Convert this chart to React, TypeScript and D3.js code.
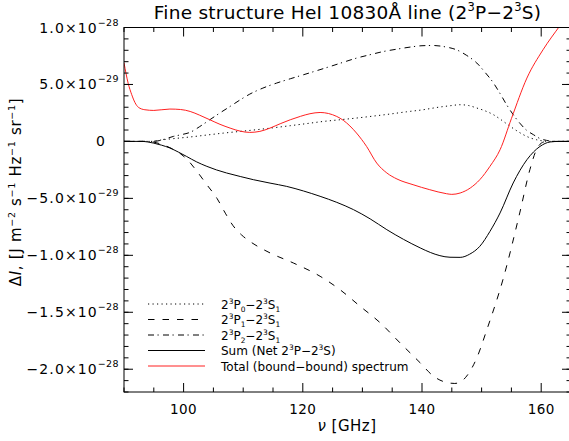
import React from "react";
import * as d3 from "d3";

// units of 1e-29 for values, GHz for frequency
const UNIT = 1e-29;

const nuP0 = [90, 94.5, 96.6, 98.8, 101.1, 103.9, 106.7, 109.5, 112.3, 115.1, 117.9, 120.6, 123.4, 126.2, 129.0, 131.8, 134.6, 137.4, 140.2, 142.5, 144.7, 146.4, 147.8, 149.2, 150.6, 152.0, 153.4, 154.8, 156.0, 157.0, 158.1, 159.2, 160.3, 161.5, 165];
const valP0 = [0, 0, 0.15, 0.27, 0.39, 0.56, 0.73, 0.88, 1.03, 1.2, 1.38, 1.56, 1.75, 1.9, 2.05, 2.22, 2.4, 2.6, 2.78, 2.98, 3.13, 3.22, 3.15, 2.93, 2.68, 2.34, 1.85, 1.32, 0.9, 0.59, 0.32, 0.15, 0.04, 0, 0];

const nuP1 = [90, 94, 96, 97.7, 99.4, 100.8, 102.2, 103.9, 105.6, 107.0, 108.3, 109.7, 111.1, 114.5, 118.4, 122.9, 126.2, 129.6, 133.0, 136.3, 139.7, 141.9, 143.7, 145.5, 146.5, 147.5, 149.2, 150.9, 153.6, 156.4, 158.1, 159.2, 160.4, 161, 165];
const valP1 = [0, 0, -0.2, -0.55, -1.05, -1.7, -2.6, -3.8, -5.0, -6.3, -7.4, -8.2, -8.77, -9.79, -10.67, -11.84, -13.0, -14.47, -15.93, -17.68, -19.44, -20.6, -21.1, -21.25, -21.1, -20.6, -19.0, -16.5, -12.1, -6.28, -2.48, -0.73, -0.05, 0, 0];

const nuP2 = [90, 94, 95.5, 96.8, 98.3, 99.7, 101.1, 102.7, 104.4, 106.1, 107.8, 109.5, 111.1, 113.3, 115.6, 117.9, 120.1, 122.4, 124.6, 126.8, 129.0, 131.2, 133.5, 135.8, 138.0, 140.0, 141.9, 143.9, 145.8, 147.5, 149.2, 150.6, 152.0, 153.1, 154.2, 155.3, 156.4, 157.5, 158.7, 159.8, 160.9, 162, 165];
const valP2 = [0, 0, 0.03, 0.2, 0.44, 0.6, 0.8, 1.3, 1.9, 2.5, 3.07, 3.65, 4.15, 4.68, 5.12, 5.5, 5.85, 6.22, 6.58, 6.95, 7.31, 7.6, 7.89, 8.1, 8.28, 8.4, 8.42, 8.3, 8.04, 7.55, 6.88, 6.05, 5.12, 4.2, 3.22, 2.35, 1.61, 1.0, 0.59, 0.25, 0.09, 0, 0];

const nuSum = [90, 93, 94, 94.9, 96.3, 97.7, 99.1, 100.5, 102.2, 103.9, 105.5, 107.2, 109.5, 111.7, 114.5, 117.3, 120.1, 122.9, 125.7, 128.5, 131.3, 134.1, 136.9, 139.7, 141.4, 143.0, 144.7, 146.4, 148.0, 149.7, 151.4, 153.1, 155.3, 157.6, 159.8, 161.5, 163, 165];
const valSum = [0, 0, -0.05, -0.14, -0.33, -0.58, -0.93, -1.32, -1.8, -2.19, -2.5, -2.77, -3.08, -3.36, -3.66, -3.95, -4.35, -4.82, -5.35, -5.99, -6.8, -7.75, -8.6, -9.35, -9.75, -10.03, -10.17, -10.18, -9.9, -9.21, -7.9, -6.28, -3.65, -1.61, -0.44, -0.05, 0, 0];

const nuTot = [90, 90.7, 91.3, 91.85, 92.4, 93.5, 95, 97.7, 99.5, 101.1, 102.7, 104.4, 106.1, 107.8, 109.5, 111.1, 112.8, 114.5, 116.2, 117.9, 119.6, 121.2, 122.9, 124.3, 125.7, 126.8, 129.0, 130.7, 132.4, 134.1, 135.8, 138.5, 141.3, 144.1, 145.0, 146.4, 148.1, 149.7, 151.4, 153.1, 155.0, 157.6, 160.3, 163.2, 165];
const valTot = [6.9, 5.1, 4.1, 3.4, 3.0, 2.78, 2.72, 2.84, 2.8, 2.63, 2.3, 1.9, 1.5, 1.17, 0.9, 0.79, 0.88, 1.17, 1.55, 1.9, 2.2, 2.43, 2.54, 2.45, 2.19, 1.85, 0.74, -0.44, -1.9, -2.77, -3.3, -3.8, -4.24, -4.59, -4.65, -4.53, -4.09, -3.36, -2.19, -0.73, 2.0, 5.56, 8.04, 10.2, 11.5];

const xMajorTicks = [100, 120, 140, 160];
const yMajorTicks = [1e-28, 5e-29, 0, -5e-29, -1e-28, -1.5e-28, -2e-28];

const legendLabels = [
  "2^3P_0−2^3S_1",
  "2^3P_1−2^3S_1",
  "2^3P_2−2^3S_1",
  "Sum (Net 2^3P−2^3S)",
  "Total (bound−bound) spectrum",
];
const titleText = "Fine structure HeI 10830Å line (2^3P−2^3S)";

const W = 569;
const H = 441;
const L = 124;
const R = 571;
const T = 27.5;
const B = 392;
const FONT = "'DejaVu Sans', sans-serif";

function Rich({ text, x, y, size, anchor = "start", fill = "#000", spacing = 0 }: any) {
  const parts: { t: string; k: string }[] = [];
  let i = 0;
  let buf = "";
  while (i < text.length) {
    const c = text[i];
    if ((c === "^" || c === "_") && i + 1 < text.length) {
      if (buf) parts.push({ t: buf, k: "n" });
      buf = "";
      let s = "";
      if (text[i + 1] === "{") {
        const j = text.indexOf("}", i + 2);
        s = text.slice(i + 2, j);
        i = j + 1;
      } else {
        s = text[i + 1];
        i += 2;
      }
      parts.push({ t: s, k: c === "^" ? "sup" : "sub" });
    } else {
      buf += c;
      i++;
    }
  }
  if (buf) parts.push({ t: buf, k: "n" });
  return (
    <text x={x} y={y} fontSize={size} fontFamily={FONT} textAnchor={anchor} fill={fill} letterSpacing={spacing}>
      {parts.map((p, k) =>
        p.k === "n" ? (
          <tspan key={k}>{p.t}</tspan>
        ) : (
          <tspan
            key={k}
            fontSize={size * 0.62}
            baselineShift={p.k === "sup" ? size * 0.42 : -size * 0.22}
          >
            {p.t}
          </tspan>
        )
      )}
    </text>
  );
}

function fmtTick(v: number) {
  if (v === 0) return null;
  const e = Math.floor(Math.log10(Math.abs(v)) + 1e-9);
  const m = v / Math.pow(10, e);
  const ms = (m < 0 ? "−" : "") + Math.abs(m).toFixed(1) + "×10";
  return { ms, es: "−" + Math.abs(e) };
}

export default function App() {
  const x = d3.scaleLinear().domain([90, 165]).range([L, R]);
  const y = d3.scaleLinear().domain([-2.2e-28, 1.0e-28]).range([B, T]);
  const line = d3
    .line<[number, number]>()
    .x((d) => x(d[0]))
    .y((d) => y(d[1] * UNIT))
    .curve(d3.curveMonotoneX);
  const mk = (nu: number[], v: number[]) => line(nu.map((n, i) => [n, v[i]]) as [number, number][]) || "";

  const series = [
    { d: mk(nuP0, valP0), stroke: "#000", dash: "1.2,3.3" },
    { d: mk(nuP1, valP1), stroke: "#000", dash: "6.5,8" },
    { d: mk(nuP2, valP2), stroke: "#000", dash: "6,3.5,1.2,4.3" },
    { d: mk(nuSum, valSum), stroke: "#000", dash: "" },
    { d: mk(nuTot, valTot), stroke: "#ff2020", dash: "" },
  ];

  const xMinor = d3.range(90, 166, 5).filter((v) => !xMajorTicks.includes(v));
  const yMinor = d3.range(-22, 11, 1).map((v) => v * 1e-29);

  const legendY = [304, 319.5, 335, 350.5, 366];

  return (
    <svg width={W} height={H} style={{ position: "absolute", left: 0, top: 0, background: "#fff" }}>
      <rect x={0} y={0} width={W} height={H} fill="#fff" />
      <defs>
        <clipPath id="plotclip">
          <rect x={L} y={T} width={R - L} height={B - T} />
        </clipPath>
      </defs>
      <Rich text={titleText} x={(L + R) / 2} y={19} size={18.5} anchor="middle" spacing={0.25} />

      <g clipPath="url(#plotclip)" fill="none" strokeWidth={1}>
        {series.map((s, i) => (
          <path key={i} d={s.d} stroke={s.stroke} strokeDasharray={s.dash || undefined} />
        ))}
      </g>

      <rect x={L} y={T} width={R - L} height={B - T} fill="none" stroke="#000" strokeWidth={1} />

      <g stroke="#000" strokeWidth={1}>
        {xMajorTicks.map((v) => (
          <g key={"xm" + v}>
            <line x1={x(v)} x2={x(v)} y1={B} y2={B - 9} />
            <line x1={x(v)} x2={x(v)} y1={T} y2={T + 9} />
          </g>
        ))}
        {xMinor.map((v) => (
          <g key={"xn" + v}>
            <line x1={x(v)} x2={x(v)} y1={B} y2={B - 4.5} />
            <line x1={x(v)} x2={x(v)} y1={T} y2={T + 4.5} />
          </g>
        ))}
        {yMinor.map((v, i) => (
          <g key={"yn" + i}>
            <line x1={L} x2={L + 4.5} y1={y(v)} y2={y(v)} />
            <line x1={R} x2={R - 4.5} y1={y(v)} y2={y(v)} />
          </g>
        ))}
        {yMajorTicks.map((v, i) => (
          <g key={"ym" + i}>
            <line x1={L} x2={L + 9} y1={y(v)} y2={y(v)} />
            <line x1={R} x2={R - 9} y1={y(v)} y2={y(v)} />
          </g>
        ))}
      </g>

      {xMajorTicks.map((v) => (
        <text key={"xl" + v} x={x(v)} y={414} fontSize={13.5} fontFamily={FONT} textAnchor="middle" letterSpacing={0.4}>
          {v}
        </text>
      ))}
      {yMajorTicks.map((v, i) => {
        const f = fmtTick(v);
        if (!f)
          return (
            <text key={"yl" + i} x={105} y={y(v) + 5} fontSize={14} fontFamily={FONT} textAnchor="end">
              0
            </text>
          );
        return (
          <text key={"yl" + i} x={119} y={y(v) + 5} fontSize={14} fontFamily={FONT} textAnchor="end">
            <tspan letterSpacing={1.1}>{f.ms}</tspan>
            <tspan fontSize={9.5} baselineShift={7} letterSpacing={0.4}>{f.es}</tspan>
          </text>
        );
      })}

      <text x={347} y={431} fontSize={15} fontFamily={FONT} textAnchor="middle" letterSpacing={0.5}>
        <tspan fontStyle="italic">ν</tspan>
        <tspan> [GHz]</tspan>
      </text>

      <text
        transform="translate(21,192) rotate(-90)"
        fontSize={15}
        fontFamily={FONT}
        textAnchor="middle"
        letterSpacing={0.7}
      >
        <tspan>Δ</tspan>
        <tspan fontStyle="italic">I</tspan>
        <tspan>, [J m</tspan>
        <tspan fontSize={9.5} baselineShift={6}>−2</tspan>
        <tspan> s</tspan>
        <tspan fontSize={9.5} baselineShift={6}>−1</tspan>
        <tspan> Hz</tspan>
        <tspan fontSize={9.5} baselineShift={6}>−1</tspan>
        <tspan> sr</tspan>
        <tspan fontSize={9.5} baselineShift={6}>−1</tspan>
        <tspan>]</tspan>
      </text>

      {legendLabels.map((lab, i) => (
        <g key={"lg" + i}>
          <line
            x1={148}
            x2={205}
            y1={legendY[i]}
            y2={legendY[i]}
            stroke={series[i].stroke}
            strokeWidth={1}
            strokeDasharray={series[i].dash || undefined}
          />
          <Rich text={lab} x={221} y={legendY[i] + 4.5} size={12} />
        </g>
      ))}
    </svg>
  );
}
